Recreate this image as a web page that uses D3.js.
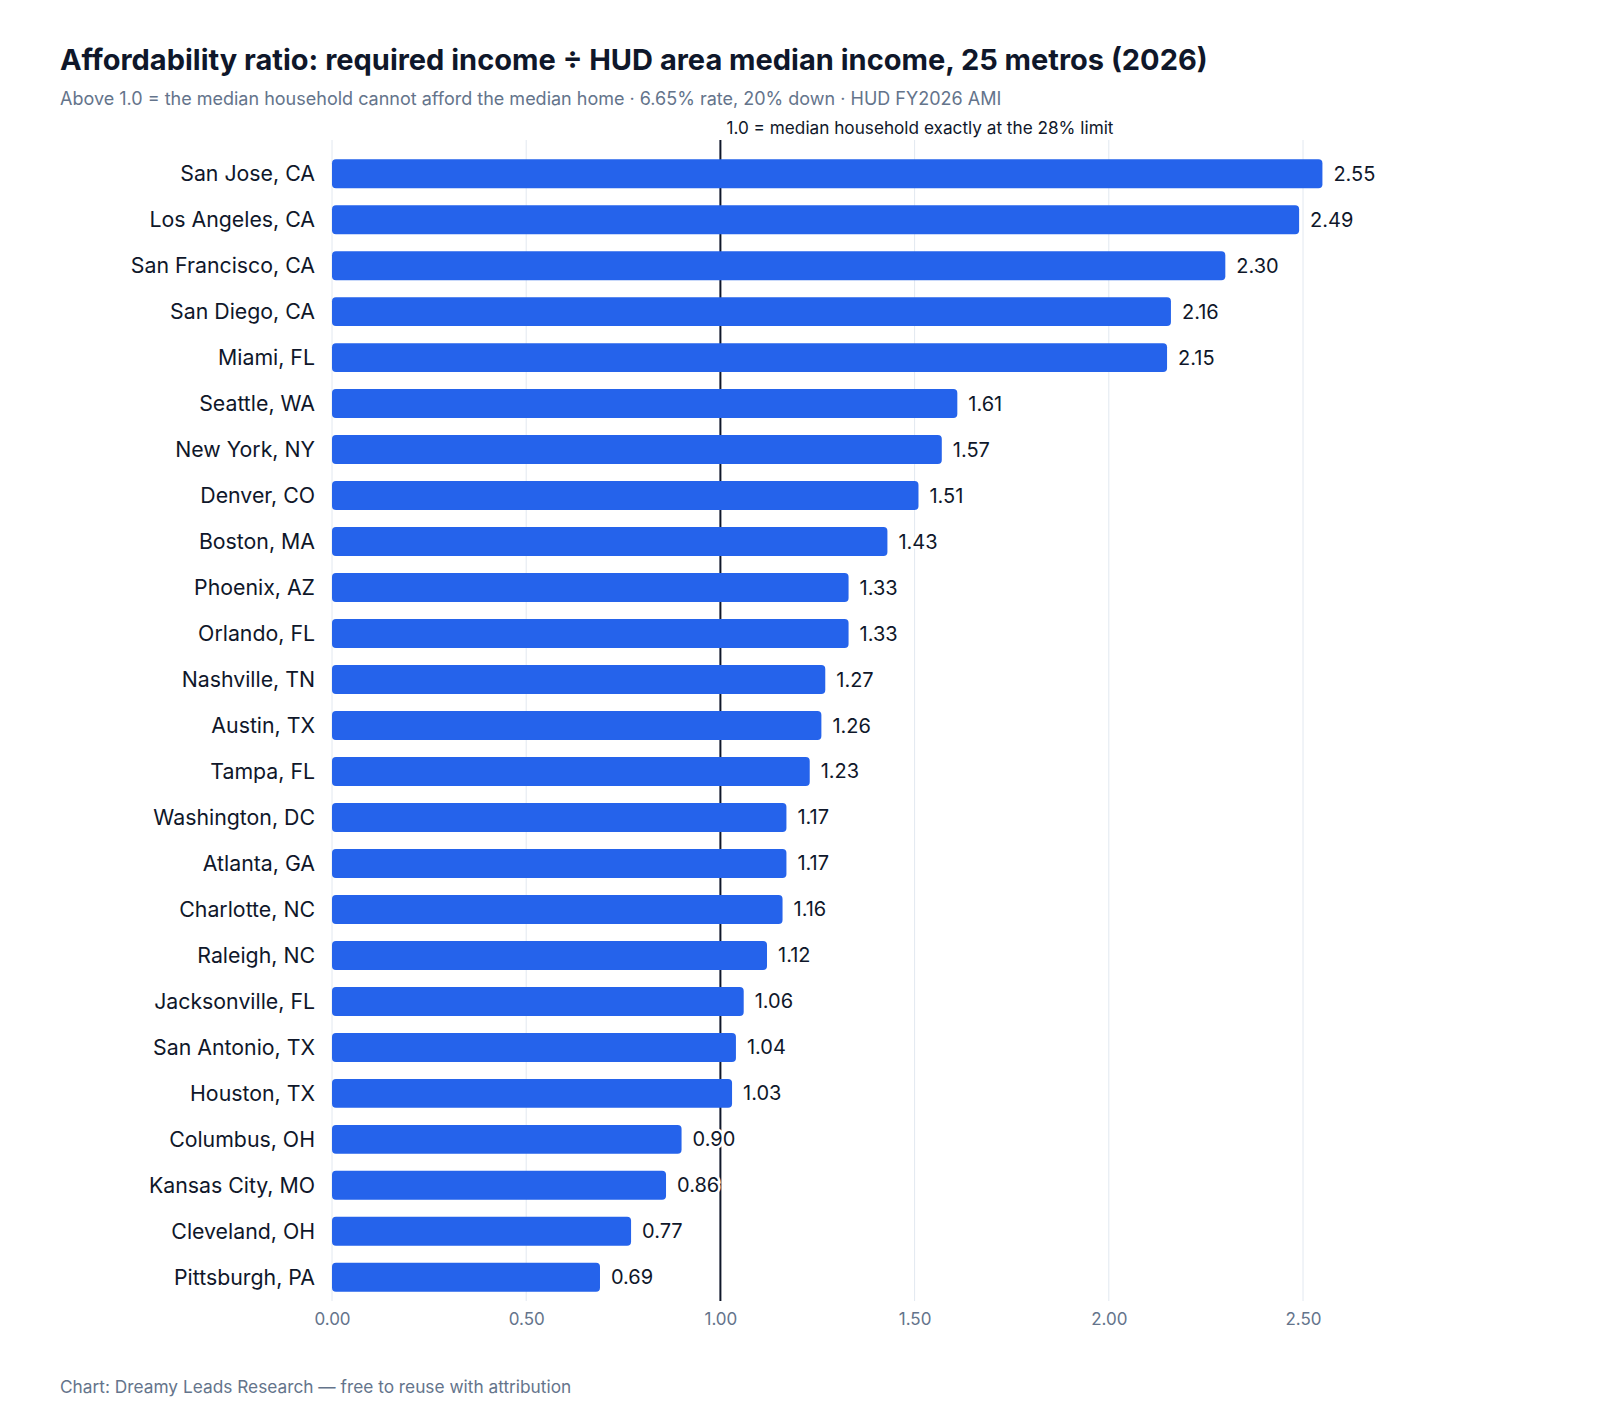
<!DOCTYPE html>
<html>
<head>
<meta charset="utf-8">
<script src="https://cdn.jsdelivr.net/npm/d3@7"></script>
<style>
  body { margin: 0; background: #fff; }
  svg { display: block; font-family: Inter, "Noto Sans", sans-serif; }
</style>
</head>
<body>
<svg id="chart" width="1600" height="1420"></svg>
<script>
var metros = ["San Jose, CA", "Los Angeles, CA", "San Francisco, CA", "San Diego, CA", "Miami, FL",
	"Seattle, WA", "New York, NY", "Denver, CO", "Boston, MA", "Phoenix, AZ", "Orlando, FL",
	"Nashville, TN", "Austin, TX", "Tampa, FL", "Washington, DC", "Atlanta, GA", "Charlotte, NC",
	"Raleigh, NC", "Jacksonville, FL", "San Antonio, TX", "Houston, TX", "Columbus, OH",
	"Kansas City, MO", "Cleveland, OH", "Pittsburgh, PA"];
var ratios = [2.55, 2.49, 2.30, 2.16, 2.15, 1.61, 1.57, 1.51, 1.43, 1.33, 1.33, 1.27, 1.26, 1.23,
	1.17, 1.17, 1.16, 1.12, 1.06, 1.04, 1.03, 0.90, 0.86, 0.77, 0.69];
var xTicks = [0, 0.5, 1, 1.5, 2, 2.5];
var refValue = 1.0;

var titleText = "Affordability ratio: required income \u00f7 HUD area median income, 25 metros (2026)";
var subtitleText = "Above 1.0 = the median household cannot afford the median home \u00b7 6.65% rate, 20% down \u00b7 HUD FY2026 AMI";
var refLabel = "1.0 = median household exactly at the 28% limit";
var footerText = "Chart: Dreamy Leads Research \u2014 free to reuse with attribution";

var rows = metros.map(function(m, i) {
	return { metro: m, ratio: ratios[i] };
});

var svg = d3.select("#chart");
var plotTop = 150, plotBottom = 1301, gridTop = 140;

var x = d3.scaleLinear().domain([0, 2.8]).range([332, 332 + 2.8 * 388.4]);
var y = d3.scaleBand().domain(metros).range([plotTop, plotBottom])
	.paddingInner(0.37).paddingOuter(0.2);

svg.append("rect").attr("width", 1600).attr("height", 1420).attr("fill", "#fff");

// title block
svg.append("text").attr("x", 60).attr("y", 70)
	.attr("font-size", 29).attr("font-weight", 700).attr("fill", "#0f172a")
	.text(titleText);
svg.append("text").attr("x", 60).attr("y", 105)
	.attr("font-size", 18).attr("fill", "#64748b")
	.text(subtitleText);

// vertical grid
svg.append("g").selectAll("line").data(xTicks).enter().append("line")
	.attr("x1", function(d) { return x(d); })
	.attr("x2", function(d) { return x(d); })
	.attr("y1", gridTop).attr("y2", plotBottom)
	.attr("stroke", "#e2e8f0").attr("stroke-width", 1);

// x axis labels
var xAxis = d3.axisBottom(x).tickValues(xTicks).tickFormat(d3.format(".2f")).tickSize(0).tickPadding(12);
var axisG = svg.append("g").attr("transform", "translate(0," + plotBottom + ")").call(xAxis);
axisG.select(".domain").remove();
axisG.selectAll("text").attr("font-size", 17).attr("fill", "#64748b")
	.attr("font-family", "Inter, 'Noto Sans', sans-serif");

// reference line at 1.0
svg.append("line")
	.attr("x1", x(refValue)).attr("x2", x(refValue))
	.attr("y1", gridTop).attr("y2", plotBottom)
	.attr("stroke", "#0f172a").attr("stroke-width", 2);
svg.append("text").attr("x", x(refValue) + 6).attr("y", 134)
	.attr("font-size", 17.2).attr("fill", "#0f172a")
	.text(refLabel);

// bars
svg.append("g").selectAll("rect").data(rows).enter().append("rect")
	.attr("x", x(0))
	.attr("y", function(d) { return y(d.metro); })
	.attr("width", function(d) { return x(d.ratio) - x(0); })
	.attr("height", y.bandwidth())
	.attr("rx", 4)
	.attr("fill", "#2563eb");

// category labels
svg.append("g").selectAll("text").data(rows).enter().append("text")
	.attr("x", x(0) - 17)
	.attr("y", function(d) { return y(d.metro) + y.bandwidth() / 2; })
	.attr("dy", "0.35em")
	.attr("text-anchor", "end")
	.attr("font-size", 21.3).attr("fill", "#0f172a")
	.text(function(d) { return d.metro; });

// value labels with white halo so the ref line breaks behind them
svg.append("g").selectAll("text").data(rows).enter().append("text")
	.attr("x", function(d) { return x(d.ratio) + 11; })
	.attr("y", function(d) { return y(d.metro) + y.bandwidth() / 2; })
	.attr("dy", "0.35em")
	.attr("font-size", 20).attr("fill", "#0f172a")
	.attr("stroke", "#fff").attr("stroke-width", 5).attr("paint-order", "stroke")
	.text(function(d) { return d3.format(".2f")(d.ratio); });

svg.append("text").attr("x", 60).attr("y", 1393)
	.attr("font-size", 17.3).attr("fill", "#64748b")
	.text(footerText);
</script>
</body>
</html>
